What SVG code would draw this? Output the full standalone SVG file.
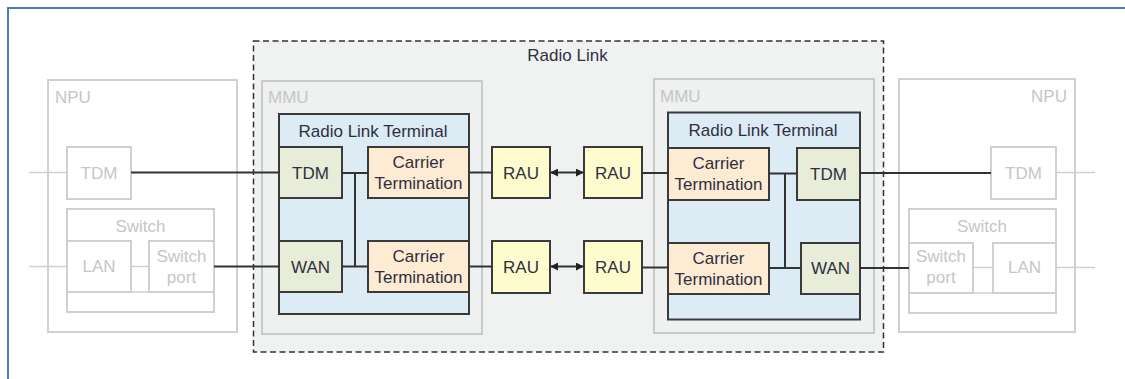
<svg xmlns="http://www.w3.org/2000/svg" width="1125" height="379" viewBox="0 0 1125 379">
  <style>
    text { font-family: "Liberation Sans", Arial, sans-serif; font-size: 17px; }
    .dim { fill: #c4c6c8; }
    .dark { fill: #2e3040; }
    .mid { text-anchor: middle; }
    .gbox { fill: none; stroke: #cfd0d1; stroke-width: 2; }
    .gline { fill: none; stroke: #cfd0d1; stroke-width: 1.5; }
    .frame { fill: #f0f1f1; stroke: #333; stroke-width: 1.5; stroke-dasharray: 6 3.5; }
    .mmu { fill: #eff0f0; stroke: #c9cacb; stroke-width: 2; }
    .rlt { fill: #ddebf5; stroke: #3a3a3a; stroke-width: 2; }
    .port { fill: #e7edd8; stroke: #3a3a3a; stroke-width: 2; }
    .ct { fill: #fdebd3; stroke: #3a3a3a; stroke-width: 2; }
    .rau { fill: #fefbcf; stroke: #3a3a3a; stroke-width: 2; }
    .wire { fill: none; stroke: #333; stroke-width: 2; }
  </style>
  <defs>
    <marker id="tip" viewBox="0 0 10 10" refX="9" refY="5" markerWidth="4" markerHeight="4" orient="auto-start-reverse">
      <path d="M0,0 L10,5 L0,10 z" fill="#222"/>
    </marker>
  </defs>

  <!-- page frame -->
  <path d="M8,379 V8 H1125" fill="none" stroke="#4a7cc4" stroke-width="2"/>

  <!-- left NPU -->
  <g id="npu-left">
    <rect class="gbox" x="48" y="80" width="189" height="252"/>
    <text class="dim" x="55" y="103">NPU</text>
    <g id="npu-left-tdm">
      <rect class="gbox" x="67" y="147" width="64" height="52"/>
      <text class="dim mid" x="99" y="179">TDM</text>
    </g>
    <g id="npu-left-switch">
      <rect class="gbox" x="67" y="209" width="147" height="103"/>
      <line class="gline" x1="67" y1="292" x2="214" y2="292"/>
      <text class="dim mid" x="140.5" y="232">Switch</text>
    </g>
    <g id="npu-left-lan">
      <rect class="gbox" x="67" y="241" width="64" height="51"/>
      <text class="dim mid" x="99" y="272">LAN</text>
    </g>
    <g id="npu-left-port">
      <rect class="gbox" x="149" y="241" width="65" height="51"/>
      <text class="dim mid" x="181.5" y="261.5">Switch</text>
      <text class="dim mid" x="181.5" y="282.5">port</text>
    </g>
  </g>

  <!-- right NPU -->
  <g id="npu-right">
    <rect class="gbox" x="899" y="79" width="176" height="253"/>
    <text class="dim" x="1067" y="102" text-anchor="end">NPU</text>
    <g id="npu-right-tdm">
      <rect class="gbox" x="991" y="147" width="65" height="52"/>
      <text class="dim mid" x="1023.5" y="179">TDM</text>
    </g>
    <g id="npu-right-switch">
      <rect class="gbox" x="909" y="209" width="147" height="104"/>
      <line class="gline" x1="909" y1="293" x2="1056" y2="293"/>
      <text class="dim mid" x="982" y="232">Switch</text>
    </g>
    <g id="npu-right-port">
      <rect class="gbox" x="909" y="243" width="64" height="50"/>
      <text class="dim mid" x="941" y="262">Switch</text>
      <text class="dim mid" x="941" y="283">port</text>
    </g>
    <g id="npu-right-lan">
      <rect class="gbox" x="993" y="243" width="63" height="50"/>
      <text class="dim mid" x="1024.5" y="273">LAN</text>
    </g>
  </g>

  <!-- radio link -->
  <g id="radio-link">
    <rect class="frame" x="253.5" y="41" width="630" height="311"/>
    <text class="dark mid" x="567.5" y="61">Radio Link</text>
  </g>

  <g id="mmu-left">
    <rect class="mmu" x="262" y="81" width="220" height="253"/>
    <text class="dim" x="268" y="103">MMU</text>
  </g>
  <g id="mmu-right">
    <rect class="mmu" x="654" y="79" width="220" height="254"/>
    <text class="dim" x="660" y="102">MMU</text>
  </g>

  <g id="rlt-left">
    <rect class="rlt" x="279" y="114" width="190" height="200"/>
    <text class="dark mid" x="373" y="137">Radio Link Terminal</text>
  </g>
  <g id="rlt-right">
    <rect class="rlt" x="668" y="112.5" width="192" height="207"/>
    <text class="dark mid" x="763" y="136">Radio Link Terminal</text>
  </g>

  <!-- left terminal ports -->
  <g id="tdm-left">
    <rect class="port" x="279" y="147" width="63" height="51"/>
    <text class="dark mid" x="310.5" y="179">TDM</text>
  </g>
  <g id="wan-left">
    <rect class="port" x="279" y="241" width="63" height="51"/>
    <text class="dark mid" x="310.5" y="273">WAN</text>
  </g>
  <g id="ct-left-top">
    <rect class="ct" x="368" y="147" width="101" height="51"/>
    <text class="dark mid" x="418.5" y="168">Carrier</text>
    <text class="dark mid" x="418.5" y="189">Termination</text>
  </g>
  <g id="ct-left-bottom">
    <rect class="ct" x="368" y="241" width="101" height="51"/>
    <text class="dark mid" x="418.5" y="262">Carrier</text>
    <text class="dark mid" x="418.5" y="283">Termination</text>
  </g>

  <!-- radio units -->
  <g id="rau-1">
    <rect class="rau" x="492" y="147" width="58" height="51"/>
    <text class="dark mid" x="521" y="179">RAU</text>
  </g>
  <g id="rau-2">
    <rect class="rau" x="584" y="147" width="58" height="51"/>
    <text class="dark mid" x="613" y="179">RAU</text>
  </g>
  <g id="rau-3">
    <rect class="rau" x="492" y="241" width="58" height="52"/>
    <text class="dark mid" x="521" y="273">RAU</text>
  </g>
  <g id="rau-4">
    <rect class="rau" x="584" y="241" width="58" height="52"/>
    <text class="dark mid" x="613" y="273">RAU</text>
  </g>

  <!-- right terminal ports -->
  <g id="ct-right-top">
    <rect class="ct" x="668" y="148" width="101" height="52"/>
    <text class="dark mid" x="718.5" y="169">Carrier</text>
    <text class="dark mid" x="718.5" y="190">Termination</text>
  </g>
  <g id="ct-right-bottom">
    <rect class="ct" x="668" y="243" width="101" height="51"/>
    <text class="dark mid" x="718.5" y="264">Carrier</text>
    <text class="dark mid" x="718.5" y="285">Termination</text>
  </g>
  <g id="tdm-right">
    <rect class="port" x="797" y="148" width="63" height="52"/>
    <text class="dark mid" x="828.5" y="180">TDM</text>
  </g>
  <g id="wan-right">
    <rect class="port" x="801" y="243" width="59" height="51"/>
    <text class="dark mid" x="830.5" y="274">WAN</text>
  </g>

  <!-- connectors -->
  <g id="connectors">
    <!-- outside feeds -->
    <line class="gline" x1="29" y1="172.5" x2="67" y2="172.5"/>
    <line class="gline" x1="29" y1="266.5" x2="67" y2="266.5"/>
    <line class="gline" x1="131" y1="266.5" x2="149" y2="266.5"/>
    <line class="gline" x1="1056" y1="172.5" x2="1095" y2="172.5"/>
    <line class="gline" x1="1056" y1="267.5" x2="1095" y2="267.5"/>
    <line class="gline" x1="973" y1="267.5" x2="993" y2="267.5"/>

    <!-- NPU to terminals -->
    <line class="wire" x1="131" y1="172.5" x2="279" y2="172.5"/>
    <line class="wire" x1="214" y1="266.5" x2="279" y2="266.5"/>
    <line class="wire" x1="860" y1="173" x2="991" y2="173"/>
    <line class="wire" x1="860" y1="268" x2="909" y2="268"/>

    <!-- left terminal internals -->
    <path class="wire" d="M342,173 H368 M342,266.5 H368 M355,173 V266.5"/>
    <!-- right terminal internals -->
    <path class="wire" d="M769,173.5 H797 M769,268 H801 M785,173.5 V268"/>

    <!-- carrier terminations to radio units -->
    <line class="wire" x1="469" y1="172.5" x2="492" y2="172.5"/>
    <line class="wire" x1="469" y1="266.5" x2="492" y2="266.5"/>
    <line class="wire" x1="642" y1="173" x2="668" y2="173"/>
    <line class="wire" x1="642" y1="267.5" x2="668" y2="267.5"/>

    <!-- radio hops -->
    <line class="wire" x1="551" y1="172.5" x2="583" y2="172.5" marker-start="url(#tip)" marker-end="url(#tip)"/>
    <line class="wire" x1="551" y1="266.5" x2="583" y2="266.5" marker-start="url(#tip)" marker-end="url(#tip)"/>
  </g>
</svg>
